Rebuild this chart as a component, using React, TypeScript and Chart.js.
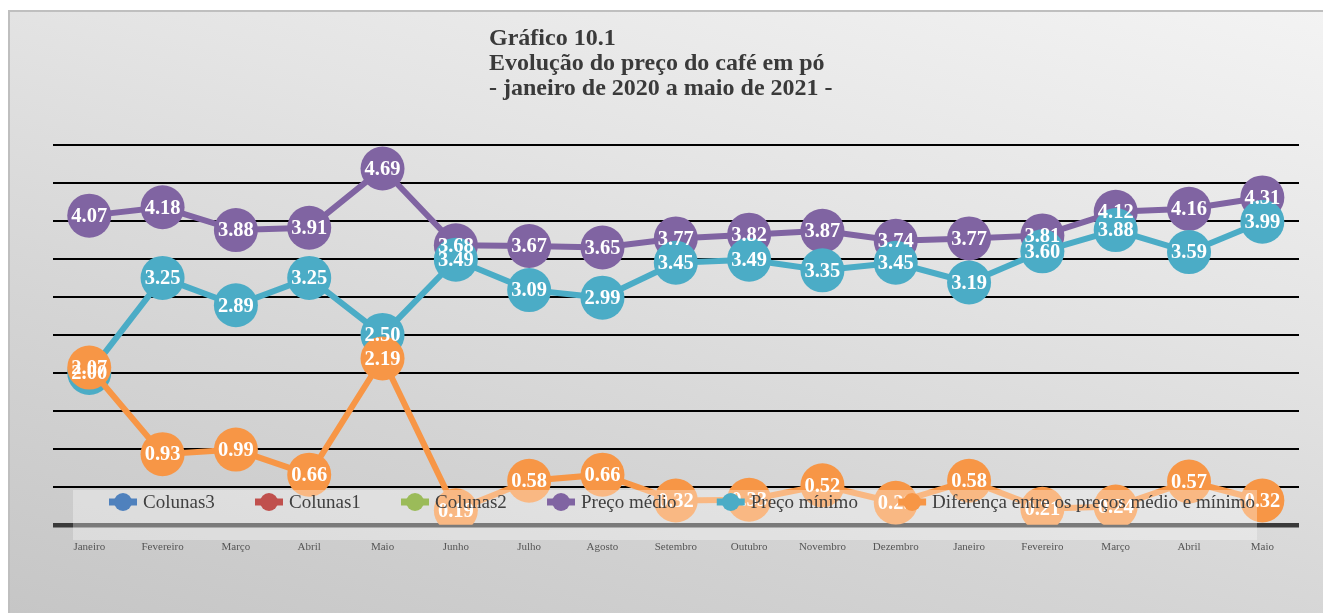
import React, { useEffect, useRef } from "react";
import { Chart, registerables } from "chart.js";

Chart.register(...registerables);

const categories = [
  "Janeiro", "Fevereiro", "Março", "Abril", "Maio", "Junho", "Julho", "Agosto",
  "Setembro", "Outubro", "Novembro", "Dezembro", "Janeiro", "Fevereiro", "Março", "Abril", "Maio",
];

const precoMedio = [4.07, 4.18, 3.88, 3.91, 4.69, 3.68, 3.67, 3.65, 3.77, 3.82, 3.87, 3.74, 3.77, 3.81, 4.12, 4.16, 4.31];
const precoMinimo = [2.0, 3.25, 2.89, 3.25, 2.5, 3.49, 3.09, 2.99, 3.45, 3.49, 3.35, 3.45, 3.19, 3.6, 3.88, 3.59, 3.99];
const diferenca = [2.07, 0.93, 0.99, 0.66, 2.19, 0.19, 0.58, 0.66, 0.32, 0.33, 0.52, 0.29, 0.58, 0.21, 0.24, 0.57, 0.32];

const seriesNames = ["Colunas3", "Colunas1", "Colunas2", "Preço médio", "Preço mínimo", "Diferença entre os preços médio e mínimo"];
const seriesColors = ["#4F81BD", "#C0504D", "#9BBB59", "#8064A2", "#4BACC6", "#F79646"];

const titleLines = ["Gráfico 10.1", "Evolução do preço do café em pó", "- janeiro de 2020 a maio de 2021 -"];

const yMin = 0;
const yMax = 5;
const yStep = 0.5;

const labelFont = "bold 20.5px 'Liberation Serif', serif";
const legendFont = "19px 'Liberation Serif', serif";

const overlayPlugin = {
  id: "overlayPlugin",
  afterDraw(chart: any) {
    const ctx = chart.ctx;
    // data labels
    ctx.save();
    ctx.font = labelFont;
    ctx.fillStyle = "#ffffff";
    ctx.textAlign = "center";
    ctx.textBaseline = "middle";
    const metas = chart.getSortedVisibleDatasetMetas().slice().reverse();
    metas.forEach((meta: any) => {
      const ds = chart.data.datasets[meta.index];
      meta.data.forEach((pt: any, i: number) => {
        const v = ds.data[i];
        if (v === null || v === undefined) return;
        ctx.fillText(Number(v).toFixed(2), pt.x, pt.y + 1);
      });
    });
    ctx.restore();

    // legend
    const box = { x: 65, y: 480, w: 1184, h: 50 };
    ctx.save();
    ctx.fillStyle = "rgba(255,255,255,0.33)";
    ctx.fillRect(box.x, box.y, box.w, box.h);
    ctx.font = legendFont;
    const markerW = 28;
    const textGap = 6;
    const startX = 101;
    const endX = 1247;
    const widths = chart.data.datasets.map((d: any) => markerW + textGap + ctx.measureText(d.label).width);
    const total = widths.reduce((a: number, b: number) => a + b, 0);
    const gap = (endX - startX - total) / (widths.length - 1);
    const cy = 492;
    let x = startX;
    chart.data.datasets.forEach((d: any, i: number) => {
      ctx.strokeStyle = d.borderColor;
      ctx.lineWidth = 7;
      ctx.beginPath();
      ctx.moveTo(x, cy);
      ctx.lineTo(x + markerW, cy);
      ctx.stroke();
      ctx.fillStyle = d.borderColor;
      ctx.beginPath();
      ctx.arc(x + markerW / 2, cy, 9, 0, Math.PI * 2);
      ctx.fill();
      ctx.fillStyle = "#404040";
      ctx.textAlign = "left";
      ctx.textBaseline = "middle";
      ctx.fillText(d.label, x + markerW + textGap, cy + 1);
      x += widths[i] + gap;
    });
    ctx.restore();
  },
};

export default function App() {
  const canvasRef = useRef<HTMLCanvasElement | null>(null);

  useEffect(() => {
    if (!canvasRef.current) return;
    const makeLine = (idx: number, data: number[], order: number) => ({
      label: seriesNames[idx],
      data,
      borderColor: seriesColors[idx],
      backgroundColor: seriesColors[idx],
      pointBackgroundColor: seriesColors[idx],
      pointBorderColor: seriesColors[idx],
      borderWidth: 6,
      pointRadius: 22,
      pointBorderWidth: 0,
      pointHoverRadius: 22,
      tension: 0,
      order,
    });
    const chart = new Chart(canvasRef.current, {
      type: "line",
      data: {
        labels: categories,
        datasets: [
          makeLine(0, [], 5),
          makeLine(1, [], 4),
          makeLine(2, [], 3),
          makeLine(3, precoMedio, 2),
          makeLine(4, precoMinimo, 1),
          makeLine(5, diferenca, 0),
        ],
      },
      options: {
        animation: false,
        responsive: false,
        maintainAspectRatio: false,
        layout: { padding: { left: 44.6, right: 24, top: 135, bottom: 43 } },
        plugins: {
          legend: { display: false },
          title: { display: false },
          tooltip: { enabled: false },
        },
        scales: {
          x: {
            offset: true,
            grid: { display: false, drawTicks: false, tickLength: 0 },
            border: { display: false },
            ticks: {
              color: "#555555",
              font: { family: "'Liberation Serif', serif", size: 11 },
              padding: 16,
              maxRotation: 0,
              autoSkip: false,
            },
          },
          y: {
            min: yMin,
            max: yMax,
            grid: {
              drawTicks: false,
              tickLength: 0,
              color: (c: any) => (c.tick && c.tick.value === 0 ? "#3a3a3a" : "#000000"),
              lineWidth: (c: any) => (c.tick && c.tick.value === 0 ? 4.5 : 2),
            },
            border: { display: false },
            ticks: { display: false, stepSize: yStep },
          },
        },
      },
      plugins: [overlayPlugin],
    });
    return () => chart.destroy();
  }, []);

  return (
    <div
      style={{
        position: "absolute",
        left: 8,
        top: 10,
        width: 1315,
        height: 603,
        background: "linear-gradient(195deg, #f3f3f3 0%, #e4e4e4 35%, #d4d4d4 68%, #c6c6c6 100%)",
        boxShadow: "inset 2px 2px 0 #bfbfbf",
        overflow: "hidden",
      }}
    >
      <canvas ref={canvasRef} width={1315} height={603} style={{ position: "absolute", left: 0, top: 0, width: 1315, height: 603 }} />
      <div
        style={{
          position: "absolute",
          left: 481,
          top: 14.5,
          fontFamily: "'Liberation Serif', serif",
          fontWeight: "bold",
          fontSize: 24,
          lineHeight: "25px",
          color: "#3a3a3a",
          whiteSpace: "nowrap",
        }}
      >
        {titleLines.map((t, i) => (
          <div key={i}>{t}</div>
        ))}
      </div>
    </div>
  );
}
